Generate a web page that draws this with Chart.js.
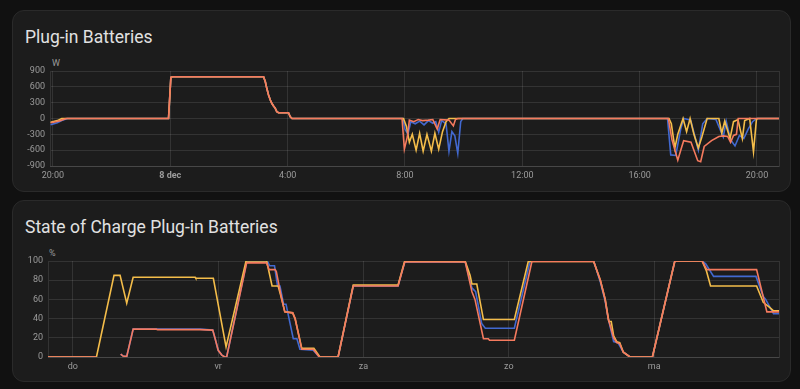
<!DOCTYPE html>
<html lang="nl">
<head>
<meta charset="UTF-8">
<title>Plug-in Batteries</title>
<style>
  body { margin:0; background:#111111; width:800px; height:389px; overflow:hidden; position:relative; font-family: Roboto, "Noto Sans", sans-serif; }
  .card { position:absolute; left:12px; width:777px; height:180px; background:#1c1c1c; border:1px solid #2a2a2a; border-radius:12px; }
  .title { position:absolute; left:25px; margin:0; font-size:17.5px; line-height:20px; font-weight:400; color:#e1e1e1; white-space:nowrap; }
  .unit { position:absolute; font-size:9px; line-height:10px; color:#9b9b9b; }
  canvas { position:absolute; }
</style>
<script src="https://cdn.jsdelivr.net/npm/chart.js"></script>
</head>
<body>

<div class="card" style="top:10px"></div>
<div class="title" style="top:27px">Plug-in Batteries</div>
<div class="unit" style="left:52px; top:58px">W</div>
<div style="position:absolute; left:12px; top:58px; width:779px; height:128px"><canvas id="powerChart"></canvas></div>

<div class="card" style="top:200px"></div>
<div class="title" style="top:217px">State of Charge Plug-in Batteries</div>
<div class="unit" style="left:49px; top:248px">%</div>
<div style="position:absolute; left:12px; top:240px; width:779px; height:136px"><canvas id="socChart"></canvas></div>

<script>
// ---- data: power (W), x = hours since 20:00 on 7 dec ----
const hourTicks  = [0, 4, 8, 12, 16, 20, 24];
const hourLabels = ['20:00', '8 dec', '4:00', '8:00', '12:00', '16:00', '20:00'];

// the 800 W block during the night is the same for all three batteries
const nightT = [3.94, 4.02, 4.08, 7.18, 7.24, 7.29, 7.35, 7.41, 7.46, 7.52, 7.58, 7.63, 7.69, 8.03, 8.09, 8.15];
const nightW = [0, 780, 790, 790, 697, 572, 445, 350, 288, 237, 193, 129, 110, 110, 34, 0];

const redStartT = [-0.08, 0.1, 0.25, 0.45];
const redStartW = [-80, -60, -40, 0];
const redDayT = [11.9, 11.98, 12.08, 12.15, 12.3, 12.45, 12.6, 12.8, 12.95, 13.1, 13.2, 13.5, 13.65, 13.72, 13.8,
                 20.98, 21.1, 21.3, 21.4, 21.5, 21.75, 21.98, 22.08, 22.2, 22.45, 22.7, 22.85, 23.0, 23.1, 23.2, 23.3, 23.36, 24.75];
const redDayW = [0, -580, -350, -30, -60, -20, -40, -30, -20, -200, -20, -30, -140, -20, 0,
                 0, -400, -790, -600, -420, -450, -800, -820, -530, -420, -340, -330, -340, -450, -320, -300, 0, 0];

const yellowStartT = [-0.08, 0.15, 0.3];
const yellowStartW = [-70, -40, 0];
const yellowDayT = [11.95, 12.05, 12.15, 12.25, 12.38, 12.5, 12.62, 12.75, 12.9, 13.02, 13.15, 13.28, 13.4, 13.5,
                    21.0, 21.08, 21.2, 21.3, 21.48, 21.6, 21.72, 21.85, 22.0, 22.12, 22.3, 22.7, 22.8, 22.9, 23.08, 23.2,
                    23.35, 23.5, 23.58, 23.75, 23.88, 23.98, 24.02, 24.75];
const yellowDayW = [0, -150, -450, -300, -600, -280, -620, -300, -620, -280, -580, -250, -60, 0,
                    0, -100, -560, -300, 0, -250, 0, -300, -560, -350, 0, 0, -280, -50, -380, -60,
                    -20, -380, -40, 0, -630, -20, 0, 0];

const blueStartT = [-0.08, 0.15, 0.3, 0.5];
const blueStartW = [-120, -80, -40, 0];
const blueDayT = [11.93, 12.0, 12.1, 12.2, 12.35, 12.5, 12.65, 12.8, 12.95, 13.05, 13.15, 13.25, 13.4, 13.5, 13.6, 13.7, 13.8, 13.9, 13.97,
                  20.95, 21.06, 21.23, 21.4, 21.5, 21.74, 22.0, 22.15, 22.3, 22.6, 22.85, 22.95, 23.1, 23.25, 23.4, 23.55, 23.7, 23.85, 23.98, 24.75];
const blueDayW = [0, -200, -300, -60, -100, -50, -120, -40, -90, -60, -260, -40, -100, -620, -250, -330, -660, -60, 0,
                  0, -690, -700, -200, 0, -30, -600, -100, 0, -20, -350, -50, -400, -520, -320, -380, -200, -60, 0, 0];

// ---- data: state of charge (%), x = hours since thursday 00:00 ----
const dayTicks  = [0, 24, 48, 72, 96];
const dayLabels = ['do', 'vr', 'za', 'zo', 'ma'];

const socRedT = [-4.1, 3.9, 5.9, 7.9, 8.3, 8.9, 9.96, 13.8, 14.0, 21.0, 23.1, 23.5, 24.0, 24.6, 25.1, 25.4, 28.7, 32.0, 32.4, 33.4,
                 33.6, 34.5, 35.0, 36.3, 36.7, 37.8, 39.7, 40.7, 43.8, 46.3, 53.7, 54.8, 64.8, 65.9, 66.4, 67.8, 68.6, 68.8, 72.9, 75.8,
                 86.0, 87.1, 87.9, 88.4, 89.3, 89.8, 90.3, 90.9, 92.0, 95.7, 99.4, 103.9, 104.7, 112.9, 114.6, 116.7];
const socRedV = [0, 0, null, 3, 1, 0.5, 29, 29, 28.5, 28.5, 28, 19, 7, 2, 0, 0, 98, 98, 91, 91,
                 89, 60, 47, 46, 40, 8, 8, 0, 0, 74, 74, 99, 99, 68, 60, 19, 19, 17.5, 17.5, 99.5,
                 99.5, 80, 60, 40, 20, 15, 14, 5, 0, 0, 100, 100, 91, 91, 47, 47];

const socBlueT = [-4.1, 3.9, 5.9, 7.9, 8.3, 8.9, 9.96, 21.0, 23.1, 23.5, 24.0, 24.6, 25.1, 25.4, 28.7, 32.2, 32.5, 33.3, 33.8, 34.2,
                  34.8, 35.2, 36.4, 37.0, 37.5, 39.7, 40.7, 43.8, 46.3, 53.7, 54.8, 64.8, 65.9, 66.5, 67.5, 68.1, 72.9, 75.5, 82.7, 86.0,
                  87.1, 87.9, 88.4, 89.3, 90.0, 90.9, 92.0, 95.7, 99.4, 103.9, 104.5, 105.8, 112.8, 114.0, 114.4, 115.7, 116.7];
const socBlueV = [0, 0, null, 3, 1, 0.5, 29, 29, 28, 19, 7, 2, 0, 0, 99, 99, 95, 95, 74, 74,
                  55, 55, 19, 19, 8, 7, 0, 0, 74, 74, 99, 99, 72, 68, 35, 30, 30, 100, 100, 100,
                  78, 58, 40, 16, 15, 5, 0, 0, 100, 100, 97, 84, 84, 63, 60, 45, 45];

const socYellowT = [-4.1, 3.9, 6.8, 7.8, 8.9, 9.96, 20.2, 20.3, 23.2, 25.3, 28.6, 32.0, 32.9, 33.9, 34.5, 35.0, 36.3, 36.7, 37.8, 39.8,
                    40.8, 43.8, 46.3, 53.7, 54.8, 64.8, 65.6, 65.9, 66.7, 67.8, 72.9, 75.2, 86.0, 87.1, 87.9, 88.5, 88.9, 89.3, 89.8, 90.3,
                    90.9, 92.0, 95.7, 99.4, 103.9, 104.6, 105.3, 112.9, 114.0, 115.0, 115.7, 116.7];
const socYellowV = [0, 0, 85, 85, 56, 83, 83, 82, 82, 10.5, 100, 100, 74, 74, 60, 47, 46, 40, 9, 9,
                    0, 0, 75, 75, 100, 99.5, 85, 76, 76, 39, 39, 99.5, 99.5, 80, 60, 37, 37, 22, 16, 15,
                    5, 0, 0, 100, 100, 90, 74, 74, 57, 52, 48, 48];

const RED = '#f57a5e', YELLOW = '#f4bd4a', BLUE = '#4269d0';
const GRID = 'rgba(255,255,255,0.1)';
const TICK_COLOR = '#9b9b9b';

function pts(t, v) {
    return t.map((x, i) => ({ x: x, y: v[i] }));
}

function line(data, color) {
    return { data: data, borderColor: color, borderWidth: 1.6, pointRadius: 0, tension: 0, fill: false, spanGaps: false };
}

function makeChart(id, datasets, cfg) {
    new Chart(document.getElementById(id), {
        type: 'line',
        data: { datasets: datasets },
        options: {
            responsive: true,
            maintainAspectRatio: false,
            animation: false,
            layout: { padding: { top: cfg.padTop, right: 12, bottom: 0, left: 0 } },
            plugins: { legend: { display: false }, tooltip: { enabled: false } },
            scales: {
                x: {
                    type: 'linear',
                    min: cfg.xMin,
                    max: cfg.xMax,
                    afterBuildTicks: function (s) {
                        s.ticks = cfg.xTicks.concat([cfg.xMax]).map(v => ({ value: v }));
                    },
                    afterFit: function (s) { s.height = cfg.xHeight; },
                    ticks: {
                        autoSkip: false,
                        maxRotation: 0,
                        padding: 4,
                        color: TICK_COLOR,
                        font: cfg.xFont,
                        callback: function (v, i) { return cfg.xLabels[i] || ''; }
                    },
                    grid: { color: GRID, drawTicks: false },
                    border: { color: GRID }
                },
                y: {
                    min: cfg.yMin,
                    max: cfg.yMax,
                    afterFit: function (s) { s.width = cfg.yWidth; },
                    ticks: { stepSize: cfg.yStep, padding: 5, color: TICK_COLOR, font: { family: 'Roboto', size: 9 } },
                    grid: { color: GRID, drawTicks: false },
                    border: { color: GRID }
                }
            }
        }
    });
}

// red first so that it is drawn on top
makeChart('powerChart', [
    line(pts(redStartT.concat(nightT, redDayT), redStartW.concat(nightW, redDayW)), RED),
    line(pts(yellowStartT.concat(nightT, yellowDayT), yellowStartW.concat(nightW, yellowDayW)), YELLOW),
    line(pts(blueStartT.concat(nightT, blueDayT), blueStartW.concat(nightW, blueDayW)), BLUE)
], {
    padTop: 13, xMin: -0.1, xMax: 24.75, xTicks: hourTicks, xLabels: hourLabels, xHeight: 20,
    xFont: function (c) { return { family: 'Roboto', size: 9, weight: (c.tick && c.tick.value === 4) ? 'bold' : 'normal' }; },
    yMin: -900, yMax: 900, yStep: 300, yWidth: 38
});

makeChart('socChart', [
    line(pts(socRedT, socRedV), RED),
    line(pts(socYellowT, socYellowV), YELLOW),
    line(pts(socBlueT, socBlueV), BLUE)
], {
    padTop: 21, xMin: -4.1, xMax: 116.6, xTicks: dayTicks, xLabels: dayLabels, xHeight: 19,
    xFont: { family: 'Roboto', size: 9 },
    yMin: 0, yMax: 100, yStep: 20, yWidth: 36
});
</script>
</body>
</html>
